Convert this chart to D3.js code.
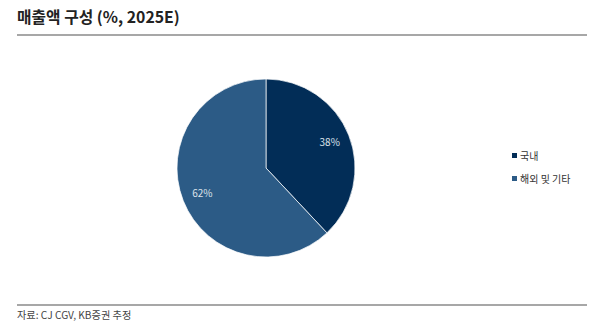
<!DOCTYPE html>
<html>
<head>
<meta charset="utf-8">
<script src="https://cdn.jsdelivr.net/npm/d3@7"></script>
<style>
  body { margin: 0; background: #fff; }
  svg text { font-family: "Noto Sans CJK KR", "Noto Sans", sans-serif; }
</style>
</head>
<body>
<div id="chart"></div>
<script>
const categories = ['국내', '해외 및 기타'];
const values = [38, 62];
const colors = ['#022d57', '#2c5b86'];

const width = 600, height = 329;
const svg = d3.select('#chart').append('svg')
  .attr('width', width)
  .attr('height', height);

// title + rules
svg.append('text')
  .attr('x', 17).attr('y', 23)
  .attr('font-size', 15.8).attr('font-weight', 'bold')
  .attr('fill', '#222')
  .text('매출액 구성 (%, 2025E)');
svg.append('line')
  .attr('x1', 17).attr('x2', 587).attr('y1', 35).attr('y2', 35)
  .attr('stroke', '#8a8a8a').attr('stroke-width', 1.6);
svg.append('line')
  .attr('x1', 17).attr('x2', 587).attr('y1', 305).attr('y2', 305)
  .attr('stroke', '#8a8a8a').attr('stroke-width', 1.6);
svg.append('text')
  .attr('x', 17).attr('y', 319)
  .attr('font-size', 10.2).attr('fill', '#444')
  .text('자료: CJ CGV, KB증권 추정');

// pie
const cx = 266, cy = 168, r = 89;
const data = categories.map((c, i) => ({ key: c, value: values[i], color: colors[i] }));
const pie = d3.pie().sort(null).value(d => d.value);
const arc = d3.arc().innerRadius(0).outerRadius(r);
const labelArc = d3.arc().innerRadius(r * 0.77).outerRadius(r * 0.77);

const g = svg.append('g').attr('transform', `translate(${cx},${cy})`);
const slices = g.selectAll('g.slice').data(pie(data)).enter().append('g').attr('class', 'slice');
slices.append('path')
  .attr('d', arc)
  .attr('fill', d => d.data.color)
  .attr('stroke', '#fff')
  .attr('stroke-width', 0.7);
slices.append('text')
  .attr('transform', d => `translate(${labelArc.centroid(d)})`)
  .attr('text-anchor', 'middle')
  .attr('dy', '0.35em')
  .attr('font-size', 10)
  .attr('fill', '#dde3ea')
  .text(d => d.data.value + '%');

// legend
const legend = svg.append('g').attr('transform', 'translate(512,156)');
const items = legend.selectAll('g').data(data).enter().append('g')
  .attr('transform', (d, i) => `translate(0,${i * 23})`);
items.append('rect')
  .attr('x', 0).attr('y', -3).attr('width', 5).attr('height', 5)
  .attr('fill', d => d.color);
items.append('text')
  .attr('x', 8).attr('y', 0).attr('dy', '0.35em')
  .attr('font-size', 10).attr('fill', '#333')
  .text(d => d.key);
</script>
</body>
</html>
